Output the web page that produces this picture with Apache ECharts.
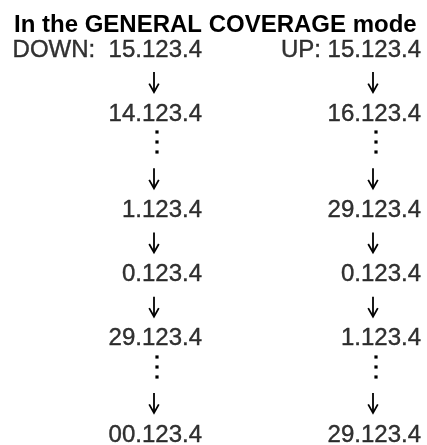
<!DOCTYPE html>
<html><head><meta charset="utf-8">
<script src="https://cdn.jsdelivr.net/npm/echarts@6/dist/echarts.min.js"></script>
<style>html,body{margin:0;padding:0;background:#fff}#c{width:427px;height:445px}</style>
</head><body><div id="c"></div>
<script>
// ---- data ----
const titleText = 'In the GENERAL COVERAGE mode';
const columnIndex = { down: 0, up: 1 };
const rowIndex = [0, 1, 2, 3, 4, 5, 6, 7, 8, 9, 10, 11, 12];
const downSequence = ['DOWN:  15.123.4', '↓', '14.123.4', '⋮', '↓', '1.123.4', '↓', '0.123.4', '↓', '29.123.4', '⋮', '↓', '00.123.4'];
const upSequence   = ['UP: 15.123.4',    '↓', '16.123.4', '⋮', '↓', '29.123.4', '↓', '0.123.4', '↓', '1.123.4',  '⋮', '↓', '29.123.4'];

// ---- build ----
const ARROW = '↓', DOTS = '⋮';
function collect(kind) {
  const out = [];
  [[downSequence, columnIndex.down], [upSequence, columnIndex.up]].forEach(([seq, col]) => {
    seq.forEach((t, i) => {
      const isArrow = t === ARROW, isDots = t === DOTS;
      const k = isArrow ? 'arrow' : isDots ? 'dots' : 'value';
      if (k === kind) out.push({ value: [col, rowIndex[i]], name: t });
    });
  });
  return out;
}
const FONT = '"Liberation Sans", Arial, Helvetica, sans-serif';
const ink = '#000';
const base = { silent: true, animation: false };
// style: glyph placement relative to the column's right edge
const ARROW_DX = -48, DOTS_DX = -45, DOTS_DY = -4;

const chart = echarts.init(document.getElementById('c'), null, { renderer: 'canvas' });
chart.setOption({
  backgroundColor: '#fff',
  title: {
    text: titleText, left: 9, top: 8,
    textStyle: { fontFamily: FONT, fontSize: 24, fontWeight: 'bold', color: ink }
  },
  grid: { left: 202, right: 6, top: 50, bottom: 10 },
  xAxis: { type: 'value', min: 0, max: 1, show: false },
  yAxis: { type: 'value', min: 0, max: 12, inverse: true, show: false },
  series: [
    Object.assign({}, base, {
      type: 'scatter', name: 'values', data: collect('value'), symbolSize: 0,
      label: { show: true, position: 'inside', align: 'right', verticalAlign: 'middle',
        formatter: p => p.name, fontFamily: FONT, fontSize: 24, color: ink,
        textBorderColor: ink, textBorderWidth: 0.4 }
    }),
    Object.assign({}, base, {
      type: 'custom', name: 'arrows', data: collect('arrow'),
      renderItem: (params, api) => {
        const p = api.coord([api.value(0), api.value(1)]);
        const x = Math.round(p[0] + ARROW_DX), y = p[1];
        return { type: 'group', children: [
          { type: 'line', shape: { x1: x, y1: y - 10, x2: x, y2: y + 9.5 },
            style: { stroke: ink, lineWidth: 1.8 } },
          { type: 'polyline', shape: { points: [[x - 4.8, y + 1.5], [x, y + 10], [x + 4.8, y + 1.5]] },
            style: { stroke: ink, fill: null, lineWidth: 1.8 } }
        ]};
      }
    }),
    Object.assign({}, base, {
      type: 'custom', name: 'dots', data: collect('dots'),
      renderItem: (params, api) => {
        const p = api.coord([api.value(0), api.value(1)]);
        const x = Math.round(p[0] + DOTS_DX), y = Math.round(p[1] + DOTS_DY);
        return { type: 'group', children: [-10, 0, 10].map(d => ({
          type: 'rect', shape: { x: x - 1.6, y: y + d - 1.6, width: 3.2, height: 3.2 },
          style: { fill: ink } })) };
      }
    })
  ]
});
</script></body></html>
